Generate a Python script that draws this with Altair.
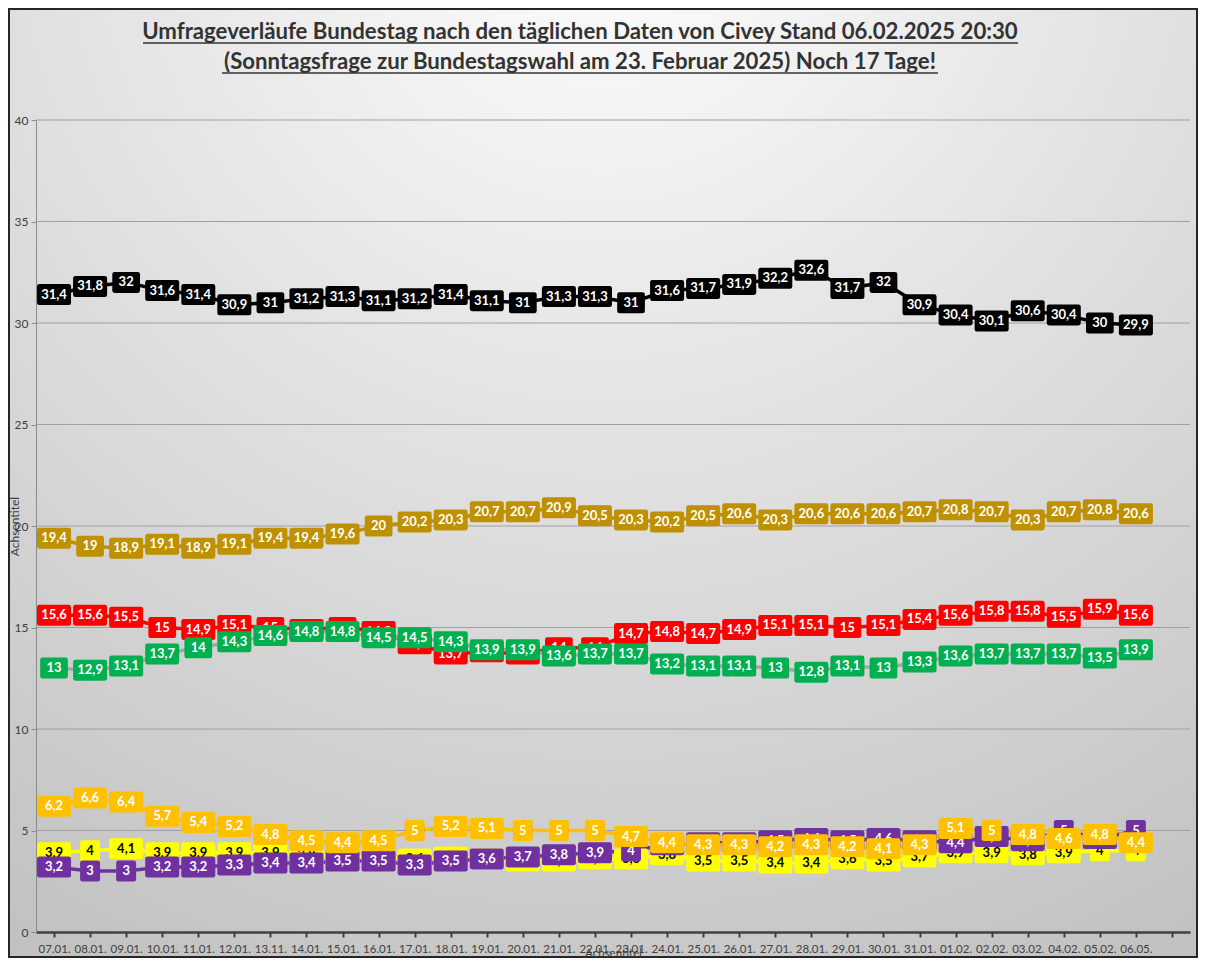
import altair as alt
import pandas as pd

dates = ["07.01.", "08.01.", "09.01.", "10.01.", "11.01.", "12.01.", "13.11.", "14.01.",
         "15.01.", "16.01.", "17.01.", "18.01.", "19.01.", "20.01.", "21.01.", "22.01.",
         "23.01.", "24.01.", "25.01.", "26.01.", "27.01.", "28.01.", "29.01.", "30.01.",
         "31.01.", "01.02.", "02.02.", "03.02.", "04.02.", "05.02.", "06.05."]

cdu = [31.4, 31.8, 32, 31.6, 31.4, 30.9, 31, 31.2, 31.3, 31.1, 31.2, 31.4, 31.1, 31, 31.3, 31.3,
       31, 31.6, 31.7, 31.9, 32.2, 32.6, 31.7, 32, 30.9, 30.4, 30.1, 30.6, 30.4, 30, 29.9]
afd = [19.4, 19, 18.9, 19.1, 18.9, 19.1, 19.4, 19.4, 19.6, 20, 20.2, 20.3, 20.7, 20.7, 20.9, 20.5,
       20.3, 20.2, 20.5, 20.6, 20.3, 20.6, 20.6, 20.6, 20.7, 20.8, 20.7, 20.3, 20.7, 20.8, 20.6]
spd = [15.6, 15.6, 15.5, 15, 14.9, 15.1, 15, 14.9, 15, 14.8, 14.2, 13.7, 13.8, 13.7, 14, 14,
       14.7, 14.8, 14.7, 14.9, 15.1, 15.1, 15, 15.1, 15.4, 15.6, 15.8, 15.8, 15.5, 15.9, 15.6]
gruene = [13, 12.9, 13.1, 13.7, 14, 14.3, 14.6, 14.8, 14.8, 14.5, 14.5, 14.3, 13.9, 13.9, 13.6, 13.7,
          13.7, 13.2, 13.1, 13.1, 13, 12.8, 13.1, 13, 13.3, 13.6, 13.7, 13.7, 13.7, 13.5, 13.9]
fdp = [3.9, 4, 4.1, 3.9, 3.9, 3.9, 3.9, 3.8, 3.7, 3.7, 3.6, 3.7, 3.6, 3.5, 3.5, 3.6,
       3.6, 3.8, 3.5, 3.5, 3.4, 3.4, 3.6, 3.5, 3.7, 3.9, 3.9, 3.8, 3.9, 4, 4]
linke = [3.2, 3, 3, 3.2, 3.2, 3.3, 3.4, 3.4, 3.5, 3.5, 3.3, 3.5, 3.6, 3.7, 3.8, 3.9,
         4, 4.3, 4.4, 4.4, 4.5, 4.6, 4.5, 4.6, 4.5, 4.4, 4.7, 4.5, 5, 4.6, 5]
bsw = [6.2, 6.6, 6.4, 5.7, 5.4, 5.2, 4.8, 4.5, 4.4, 4.5, 5, 5.2, 5.1, 5, 5, 5,
       4.7, 4.4, 4.3, 4.3, 4.2, 4.3, 4.2, 4.1, 4.3, 5.1, 5, 4.8, 4.6, 4.8, 4.4]

series_names = ["CDU/CSU", "AfD", "SPD", "Grüne", "FDP", "Linke", "BSW"]
series_values = [cdu, afd, spd, gruene, fdp, linke, bsw]
box_colors = ["#000000", "#bf9000", "#ff0000", "#00b050", "#ffff00", "#7030a0", "#ffc000"]
line_colors = ["#000000", "#bf9000", "#ff0000", "#a6a6a6", "#ffff00", "#7030a0", "#ffc000"]
marker_colors = ["#ed7d31", "#7f6000", "#4472c4", "#a5a5a5", "#ed7d31", "#70ad47", "#255e91"]
text_colors = ["#ffffff", "#ffffff", "#ffffff", "#ffffff", "#000000", "#ffffff", "#ffffff"]

y_ticks = [0, 5, 10, 15, 20, 25, 30, 35, 40]
grid_values = [5, 10, 15, 20, 25, 30, 35, 40]

title_lines = ["Umfrageverläufe Bundestag nach den täglichen Daten von Civey Stand 06.02.2025 20:30",
               "(Sonntagsfrage zur Bundestagswahl am 23. Februar 2025) Noch 17 Tage!"]


def fmt(v):
    if float(v).is_integer():
        return str(int(v))
    return str(v).replace(".", ",")


rows = []
for name, vals in zip(series_names, series_values):
    for d, v in zip(dates, vals):
        lab = fmt(v)
        rows.append({"date": d, "value": v, "series": name, "label": lab,
                     "w": str(min(len(lab), 3))})
df = pd.DataFrame(rows)
grid_df = pd.DataFrame({"value": grid_values})
title_df = pd.DataFrame({"line": [0, 1], "text": title_lines})

W, H = 1154, 812
PAD = {"left": 28, "top": 112, "right": 8, "bottom": 26}
FONT = "Lato"


def box_path(hw, hh=1.0, r=0.22):
    return (f"M{-hw + r},{-hh} L{hw - r},{-hh} Q{hw},{-hh} {hw},{-hh + r} "
            f"L{hw},{hh - r} Q{hw},{hh} {hw - r},{hh} L{-hw + r},{hh} "
            f"Q{-hw},{hh} {-hw},{hh - r} L{-hw},{-hh + r} Q{-hw},{-hh} {-hw + r},{-hh} Z")


shape_scale = alt.Scale(domain=["1", "2", "3"],
                        range=[box_path(0.95), box_path(1.32), box_path(1.62)])

x_domain = dates + ["\u2009"]
x_enc = alt.X("date:N", scale=alt.Scale(domain=x_domain, paddingInner=0, paddingOuter=0),
              axis=alt.Axis(title="Achsentitel", bandPosition=0, labelAngle=0,
                            labelFont=FONT, labelFontSize=11.5, labelColor="#404040",
                            labelPadding=6, tickSize=5, tickWidth=2, tickColor="#404040",
                            domainColor="#404040", domainWidth=2.5, grid=False,
                            titleFont=FONT, titleFontSize=11.5, titleFontWeight="normal",
                            titleColor="#404040", titleY=24, titleBaseline="alphabetic",
                            zindex=1))
y_enc = alt.Y("value:Q", scale=alt.Scale(domain=[0, 40], nice=False, zero=True),
              axis=alt.Axis(title="Achsentitel", values=y_ticks, labelFont=FONT, labelFontSize=12,
                            labelColor="#404040", labelPadding=3, tickSize=5, tickColor="#8c8c8c",
                            domainColor="#8c8c8c", domainWidth=1, grid=False,
                            titleFont=FONT, titleFontSize=12, titleFontWeight="normal",
                            titleColor="#404040", titleX=-15, titleY=H / 2, titleAngle=-90,
                            titleAlign="center", titleBaseline="bottom", zindex=1))

bg_gradient = alt.RadialGradient(
    gradient="radial", x1=0.5, y1=0.0, r1=0.0, x2=0.5, y2=0.0, r2=1.0,
    stops=[alt.GradientStop(offset=0, color="#ffffff"),
           alt.GradientStop(offset=0.4, color="#e6e6e6"),
           alt.GradientStop(offset=1, color="#c2c2c2")])

background = alt.Chart(grid_df).mark_rect(
    fill=bg_gradient, stroke="#262626", strokeWidth=2
).encode(
    x=alt.value(-PAD["left"] + 1), x2=alt.value(W + PAD["right"] - 1),
    y=alt.value(-PAD["top"] + 1), y2=alt.value(H + PAD["bottom"] - 1)
).transform_filter(alt.datum.value == 5)

# title (two lines, bold, underlined) drawn above the plot area
TITLE_CX = 544
title_specs = [(0, -81, 107, 982, -77), (1, -51, 186, 902, -47)]
title_layers = []
for idx, ty, ux1, ux2, uy in title_specs:
    t = alt.Chart(title_df).transform_filter(alt.datum.line == idx).mark_text(
        font=FONT, fontSize=22.2, fontWeight="bold", color="#333333",
        align="center", baseline="alphabetic"
    ).encode(x=alt.value(TITLE_CX), y=alt.value(ty), text="text:N")
    u = alt.Chart(title_df).transform_filter(alt.datum.line == idx).mark_rule(
        color="#333333", strokeWidth=1.5
    ).encode(x=alt.value(ux1), x2=alt.value(ux2), y=alt.value(uy))
    title_layers += [t, u]

grid = alt.Chart(grid_df).mark_rule(color="#a0a0a0", strokeWidth=1).encode(y=y_enc)

lines = alt.Chart(df).mark_line(strokeWidth=3.5).encode(
    x=x_enc, y=y_enc,
    color=alt.Color("series:N", scale=alt.Scale(domain=series_names, range=line_colors), legend=None)
)

markers = []
for name, mc in zip(series_names, marker_colors):
    sub = df[df["series"] == name]
    markers.append(alt.Chart(sub).mark_point(shape="circle", filled=True, fill=mc, opacity=1,
                                             strokeWidth=0, size=400).encode(x=x_enc, y=y_enc))

layers = [background] + title_layers + [grid, lines] + markers
for name, bc, tc in zip(series_names, box_colors, text_colors):
    sub = df[df["series"] == name]
    boxes = alt.Chart(sub).mark_point(filled=True, fill=bc, opacity=1, strokeWidth=0, size=441).encode(
        x=x_enc, y=y_enc,
        shape=alt.Shape("w:N", scale=shape_scale, legend=None)
    )
    texts = alt.Chart(sub).mark_text(font=FONT, fontWeight="bold", fontSize=13, color=tc,
                                     align="center", baseline="middle").encode(
        x=x_enc, y=y_enc, text="label:N"
    )
    layers += [boxes, texts]

chart = alt.layer(*layers).properties(
    width=W, height=H,
    padding=PAD,
    autosize=alt.AutoSizeParams(type="none")
).configure_view(stroke=None).configure(background="#ffffff")

chart.save("out.html", embed_options={"renderer": "svg", "actions": False})
